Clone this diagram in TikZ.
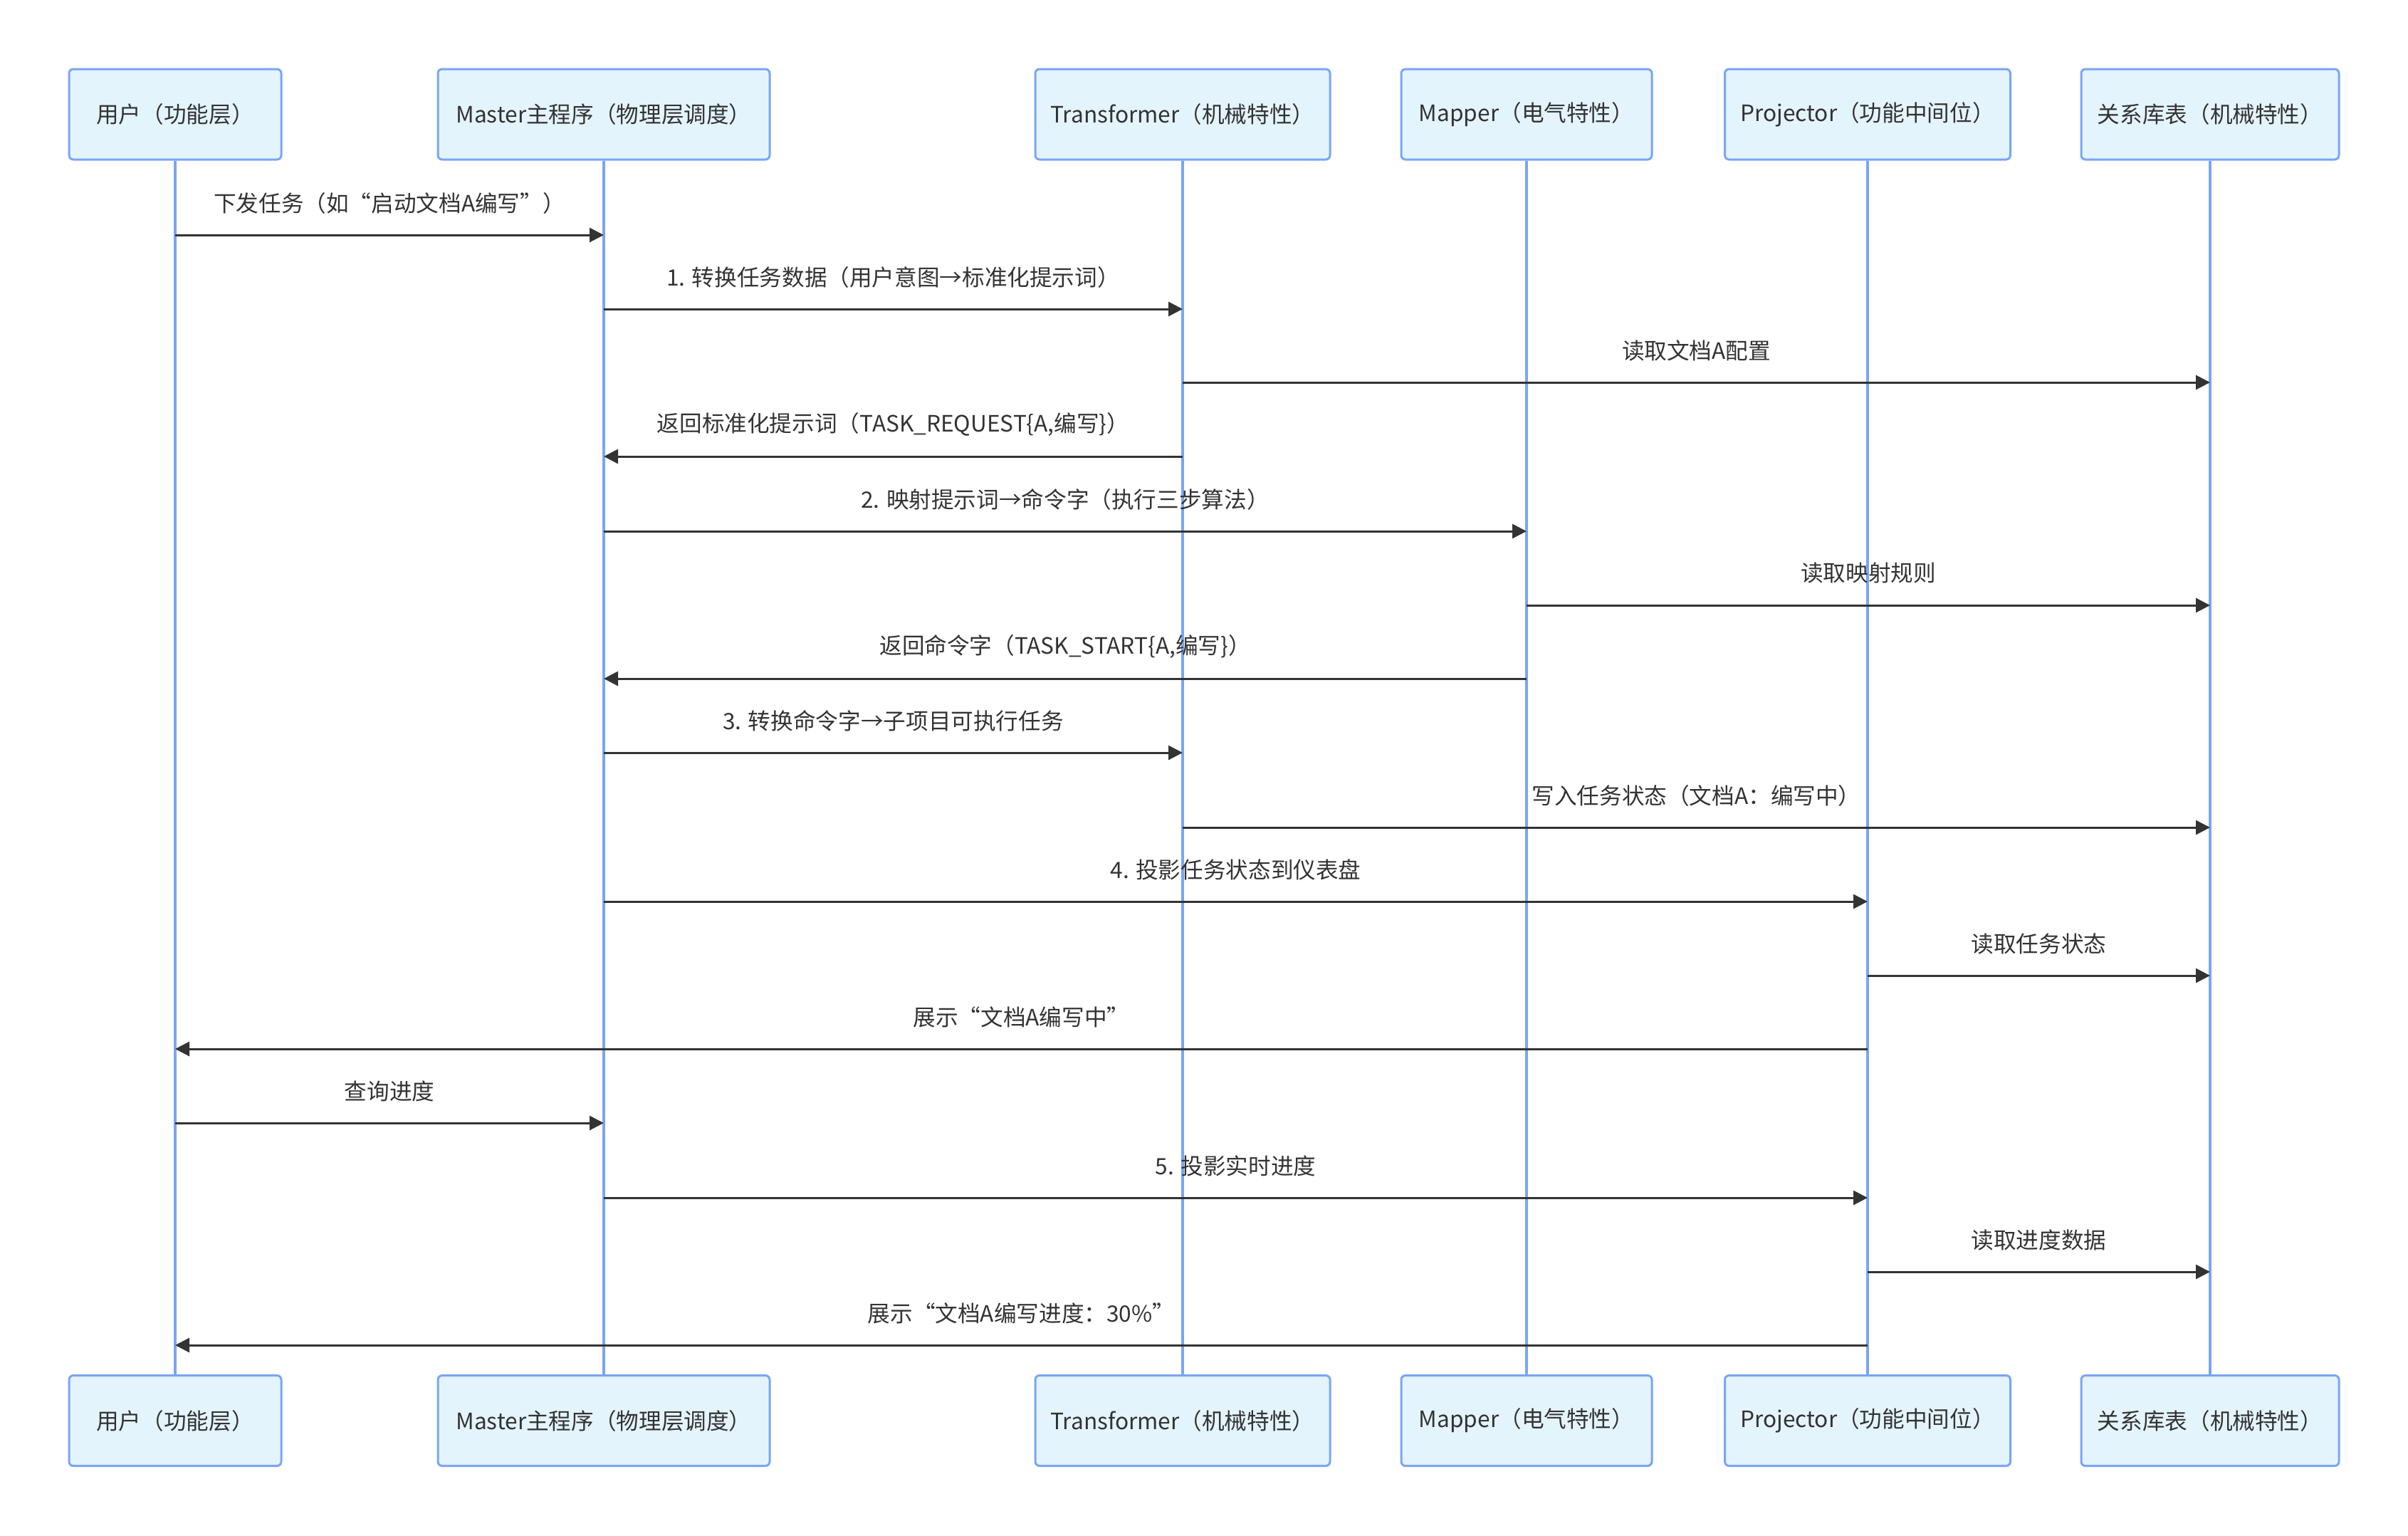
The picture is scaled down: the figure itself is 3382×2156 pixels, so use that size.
\documentclass[tikz,border=0pt]{standalone}
\usepackage{fontspec}
\setmainfont{Noto Sans CJK SC}
\usetikzlibrary{arrows.meta,positioning}
\definecolor{SeqInk}{HTML}{333333}
\definecolor{SeqFill}{HTML}{E4F4FD}
\definecolor{SeqEdge}{HTML}{7AA5F6}
\tikzset{
  seq/actor/.style={
    draw=SeqEdge, line width=.3mm, fill=SeqFill,
    rounded corners=.6mm, minimum height=12.7mm, inner sep=0pt,
    font=\fontsize{9pt}{11pt}\selectfont, text=SeqInk
  },
  seq/life/.style={draw=SeqEdge, line width=.32mm},
  seq/msg/.style={
    -{Triangle[length=2mm,width=2mm]}, line width=.3mm, draw=SeqInk
  },
  seq/label/.style={
    font=\fontsize{9pt}{11pt}\selectfont, text=SeqInk,
    inner sep=0pt, yshift=4.5mm
  }
}

\begin{document}
\begin{tikzpicture}[x=.1mm,y=-.1mm]
  \useasboundingbox (0,0) rectangle (3382,2156);
  % participants, top and bottom
  \node[seq/actor,minimum width=29.8mm] (user-top) at (246,160.5) {用户（功能层）};
  \node[seq/actor,minimum width=46.6mm] (master-top) at (848,160.5) {Master主程序（物理层调度）};
  \node[seq/actor,minimum width=41.4mm] (trans-top) at (1661,160.5) {Transformer（机械特性）};
  \node[seq/actor,minimum width=35.2mm] (mapper-top) at (2144,160.5) {Mapper（电气特性）};
  \node[seq/actor,minimum width=40.1mm] (proj-top) at (2623,160.5) {Projector（功能中间位）};
  \node[seq/actor,minimum width=36.2mm] (table-top) at (3104,160.5) {关系库表（机械特性）};
  \node[seq/actor,minimum width=29.8mm] (user-bot) at (246,1995) {用户（功能层）};
  \node[seq/actor,minimum width=46.6mm] (master-bot) at (848,1995) {Master主程序（物理层调度）};
  \node[seq/actor,minimum width=41.4mm] (trans-bot) at (1661,1995) {Transformer（机械特性）};
  \node[seq/actor,minimum width=35.2mm] (mapper-bot) at (2144,1995) {Mapper（电气特性）};
  \node[seq/actor,minimum width=40.1mm] (proj-bot) at (2623,1995) {Projector（功能中间位）};
  \node[seq/actor,minimum width=36.2mm] (table-bot) at (3104,1995) {关系库表（机械特性）};
  % lifelines
  \draw[seq/life] (user-top.south) -- (user-bot.north);
  \draw[seq/life] (master-top.south) -- (master-bot.north);
  \draw[seq/life] (trans-top.south) -- (trans-bot.north);
  \draw[seq/life] (mapper-top.south) -- (mapper-bot.north);
  \draw[seq/life] (proj-top.south) -- (proj-bot.north);
  \draw[seq/life] (table-top.south) -- (table-bot.north);
  % message rows
  \coordinate (m1) at (0,330);
  \coordinate (m2) at (0,434);
  \coordinate (m3) at (0,537);
  \coordinate (m4) at (0,641);
  \coordinate (m5) at (0,746);
  \coordinate (m6) at (0,850);
  \coordinate (m7) at (0,953);
  \coordinate (m8) at (0,1057);
  \coordinate (m9) at (0,1162);
  \coordinate (m10) at (0,1266);
  \coordinate (m11) at (0,1370);
  \coordinate (m12) at (0,1473);
  \coordinate (m13) at (0,1577);
  \coordinate (m14) at (0,1682);
  \coordinate (m15) at (0,1786);
  \coordinate (m16) at (0,1889);
  % messages
  \draw[seq/msg] (user-top |- m1) -- (master-top |- m1)
    node[seq/label,midway] {下发任务（如“启动文档A编写”）};
  \draw[seq/msg] (master-top |- m2) -- (trans-top |- m2)
    node[seq/label,midway] {1. 转换任务数据（用户意图→标准化提示词）};
  \draw[seq/msg] (trans-top |- m3) -- (table-top |- m3)
    node[seq/label,midway] {读取文档A配置};
  \draw[seq/msg] (trans-top |- m4) -- (master-top |- m4)
    node[seq/label,midway] {返回标准化提示词（TASK\_REQUEST\{A,编写\}）};
  \draw[seq/msg] (master-top |- m5) -- (mapper-top |- m5)
    node[seq/label,midway] {2. 映射提示词→命令字（执行三步算法）};
  \draw[seq/msg] (mapper-top |- m6) -- (table-top |- m6)
    node[seq/label,midway] {读取映射规则};
  \draw[seq/msg] (mapper-top |- m7) -- (master-top |- m7)
    node[seq/label,midway] {返回命令字（TASK\_START\{A,编写\}）};
  \draw[seq/msg] (master-top |- m8) -- (trans-top |- m8)
    node[seq/label,midway] {3. 转换命令字→子项目可执行任务};
  \draw[seq/msg] (trans-top |- m9) -- (table-top |- m9)
    node[seq/label,midway] {写入任务状态（文档A：编写中）};
  \draw[seq/msg] (master-top |- m10) -- (proj-top |- m10)
    node[seq/label,midway] {4. 投影任务状态到仪表盘};
  \draw[seq/msg] (proj-top |- m11) -- (table-top |- m11)
    node[seq/label,midway] {读取任务状态};
  \draw[seq/msg] (proj-top |- m12) -- (user-top |- m12)
    node[seq/label,midway] {展示“文档A编写中”};
  \draw[seq/msg] (user-top |- m13) -- (master-top |- m13)
    node[seq/label,midway] {查询进度};
  \draw[seq/msg] (master-top |- m14) -- (proj-top |- m14)
    node[seq/label,midway] {5. 投影实时进度};
  \draw[seq/msg] (proj-top |- m15) -- (table-top |- m15)
    node[seq/label,midway] {读取进度数据};
  \draw[seq/msg] (proj-top |- m16) -- (user-top |- m16)
    node[seq/label,midway] {展示“文档A编写进度：30\%”};
\end{tikzpicture}
\end{document}
